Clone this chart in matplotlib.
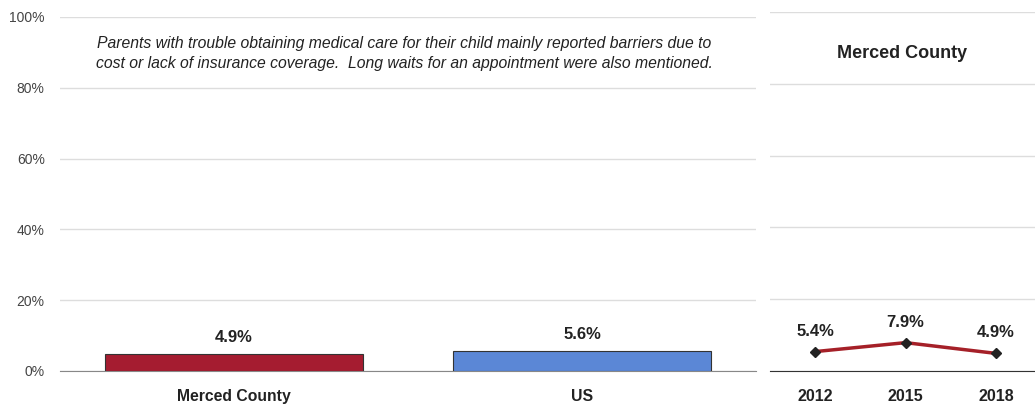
import matplotlib.pyplot as plt

plt.rcParams['font.family'] = ['Liberation Sans', 'DejaVu Sans']

# bar data
categories = ["Merced County", "US"]
values = [4.9, 5.6]
bar_colors = ["#A51C30", "#5B87D6"]

# trend data
years = ["2012", "2015", "2018"]
trend = [5.4, 7.9, 4.9]

note = ("Parents with trouble obtaining medical care for their child mainly reported barriers due to\n"
        "cost or lack of insurance coverage.  Long waits for an appointment were also mentioned.")

W, H = 1035, 407
fig = plt.figure(figsize=(W / 100, H / 100), dpi=100)

# left panel - bars
ax = fig.add_axes([60 / W, 36 / H, 696 / W, (371 - 17) / H])
ax.bar(range(len(categories)), values, width=0.74, color=bar_colors,
       edgecolor="#333333", linewidth=0.8, zorder=3)
for i, v in enumerate(values):
    ax.text(i, v + 2.5, f"{v}%", ha="center", va="bottom", fontsize=12,
            fontweight="bold", color="#222222")
ax.set_xlim(-0.5, 1.5)
ax.set_ylim(0, 100)
ax.set_yticks(range(0, 101, 20))
ax.set_yticklabels([f"{t}%" for t in range(0, 101, 20)], fontsize=10, color="#444444")
ax.set_xticks(range(len(categories)))
ax.set_xticklabels(categories, fontsize=11.3, fontweight="bold", color="#222222")
ax.tick_params(axis="x", length=0, pad=13)
ax.tick_params(axis="y", length=0, pad=11)
ax.yaxis.grid(True, color="#dddddd", linewidth=1, zorder=0)
for s in ["top", "right", "left"]:
    ax.spines[s].set_visible(False)
ax.spines["bottom"].set_color("#888888")
ax.text(0.495, 0.947, note, transform=ax.transAxes, ha="center", va="top",
        fontsize=11.3, style="italic", color="#222222", linespacing=1.45)

# right panel - trend
ax2 = fig.add_axes([770 / W, 36 / H, 265 / W, (371 - 12) / H])
ax2.plot(range(len(years)), trend, color="#A52028", linewidth=2.5,
         marker="D", markersize=5, markerfacecolor="#222222",
         markeredgecolor="#222222", zorder=3)
for i, v in enumerate(trend):
    ax2.text(i, v + 3.6, f"{v}%", ha="center", va="bottom", fontsize=12,
             fontweight="bold", color="#222222")
ax2.set_xlim(-0.497, 2.43)
ax2.set_ylim(0, 100)
ax2.set_yticks(range(0, 101, 20))
ax2.set_yticklabels([])
ax2.set_xticks(range(len(years)))
ax2.set_xticklabels(years, fontsize=11.5, fontweight="bold", color="#222222")
ax2.tick_params(axis="both", length=0, pad=13)
ax2.yaxis.grid(True, color="#dddddd", linewidth=1, zorder=0)
for s in ["top", "right", "left"]:
    ax2.spines[s].set_visible(False)
ax2.spines["bottom"].set_color("#333333")
ax2.text(0.5, 0.885, "Merced County", transform=ax2.transAxes, ha="center",
         va="center", fontsize=13, fontweight="bold", color="#222222")

fig.savefig("out.png", dpi=100)
